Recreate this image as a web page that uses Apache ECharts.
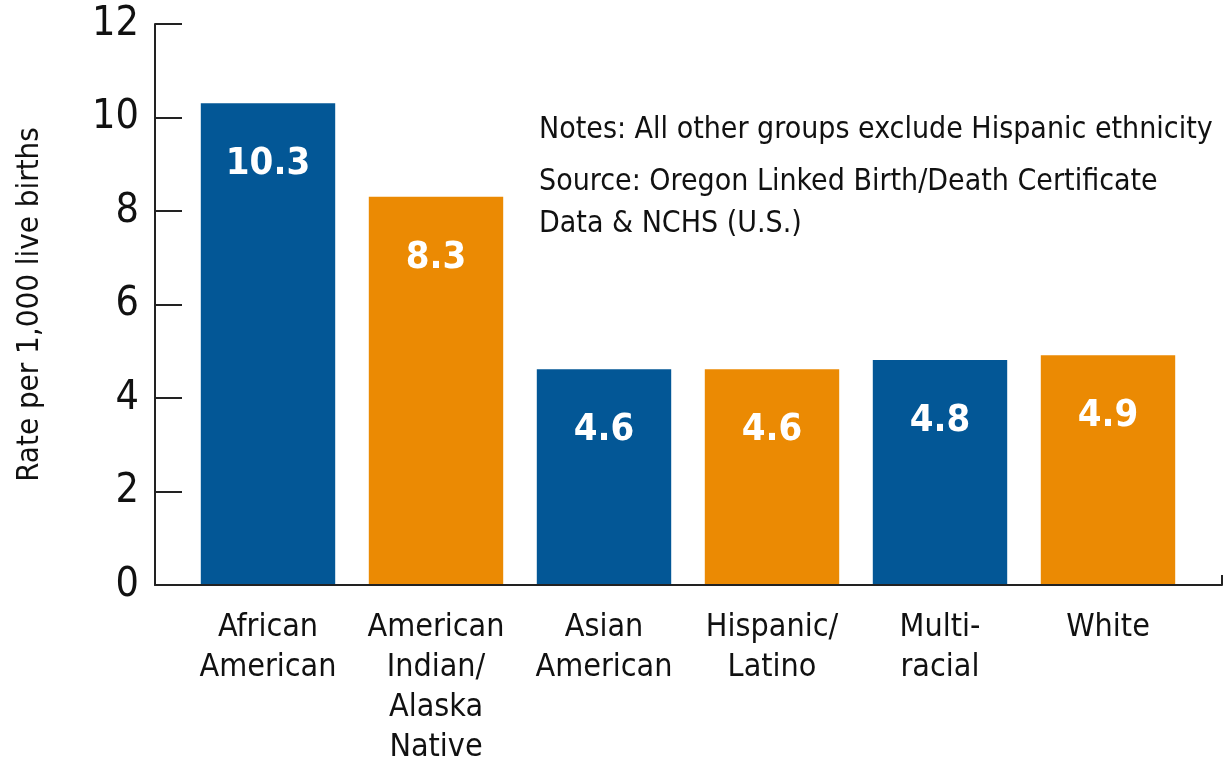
<!DOCTYPE html>
<html>
<head>
<meta charset="utf-8">
<script src="https://cdn.jsdelivr.net/npm/echarts@6/dist/echarts.min.js"></script>
<style>
html,body{margin:0;padding:0;background:#fff;}
#chart{width:1228px;height:768px;}
</style>
</head>
<body>
<div id="chart"></div>
<script>
const categories = ["African\nAmerican", "American\nIndian/\nAlaska\nNative", "Asian\nAmerican", "Hispanic/\nLatino", "Multi-\nracial", "White"];
const rates = [10.3, 8.3, 4.6, 4.6, 4.8, 4.9];
const barColors = ["#035796", "#EB8A03", "#035796", "#EB8A03", "#035796", "#EB8A03"];
const yTicks = [0, 2, 4, 6, 8, 10, 12];
const noteText = "Notes: All other groups exclude Hispanic ethnicity";
const sourceText = "Source: Oregon Linked Birth/Death Certificate\nData & NCHS (U.S.)";
const yName = "Rate per 1,000 live births";

const FONT = '"Liberation Sans Narrow", "Arial Narrow", "DejaVu Sans Condensed", sans-serif';
const chart = echarts.init(document.getElementById('chart'), null, {renderer: 'canvas'});
const TOP = 24, BOTTOM = 183;

chart.setOption({
  animation: false,
  backgroundColor: '#ffffff',
  textStyle: {fontFamily: FONT},
  title: [
    {text: noteText, left: 534, top: 104,
     textStyle: {fontFamily: FONT, fontSize: 30, fontWeight: 'normal', color: '#111', lineHeight: 42}},
    {text: sourceText, left: 534, top: 156,
     textStyle: {fontFamily: FONT, fontSize: 30, fontWeight: 'normal', color: '#111', lineHeight: 42}}
  ],
  grid: [
    {left: 184, right: 36, top: TOP, bottom: BOTTOM, containLabel: false},
    {left: 155, right: 6, top: TOP, bottom: BOTTOM, containLabel: false}
  ],
  xAxis: [
    {type: 'category', gridIndex: 0, data: categories,
     axisLine: {show: false}, axisTick: {show: false},
     axisLabel: {interval: 0, color: '#111', fontFamily: FONT, fontSize: 32, lineHeight: 40, margin: 24}},
    {type: 'value', gridIndex: 1, min: 0, max: 1, interval: 1,
     axisLine: {show: true, lineStyle: {color: '#222', width: 2}},
     axisTick: {show: true, inside: true, length: 10, lineStyle: {color: '#222', width: 2}},
     axisLabel: {show: false}, splitLine: {show: false}}
  ],
  yAxis: [
    {type: 'value', gridIndex: 0, min: 0, max: 12, interval: 2, show: false},
    {type: 'value', gridIndex: 1, min: 0, max: 12, interval: 2,
     name: yName, nameLocation: 'middle', nameGap: 110, nameRotate: 90,
     nameTextStyle: {fontFamily: FONT, fontSize: 31, color: '#111'},
     axisLine: {show: true, lineStyle: {color: '#222', width: 2}},
     axisTick: {show: true, inside: true, length: 27, lineStyle: {color: '#222', width: 2}},
     axisLabel: {color: '#111', fontFamily: FONT, fontSize: 41, margin: 16,
       formatter: v => yTicks.includes(v) ? String(v) : ''},
     splitLine: {show: false}}
  ],
  series: [{
    type: 'bar',
    xAxisIndex: 0, yAxisIndex: 0,
    barCategoryGap: '20%',
    data: rates.map((v, i) => ({value: v, itemStyle: {color: barColors[i]}})),
    label: {show: true, position: 'insideTop', distance: 42, color: '#fff',
      fontFamily: FONT, fontWeight: 'bold', fontSize: 38,
      formatter: p => p.value.toFixed(1)}
  }]
});
</script>
</body>
</html>
